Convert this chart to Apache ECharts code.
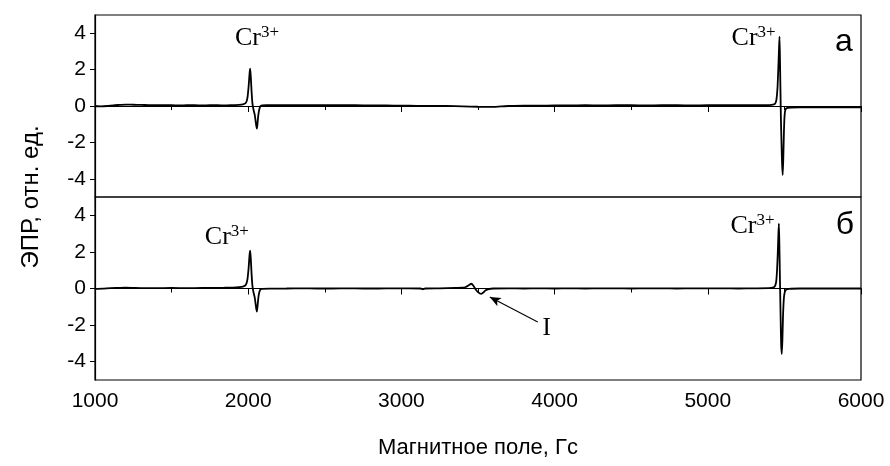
<!DOCTYPE html>
<html>
<head>
<meta charset="utf-8">
<script src="https://cdn.jsdelivr.net/npm/echarts@6/dist/echarts.min.js"></script>
<style>
  html, body { margin: 0; padding: 0; background: #fff; }
  #chart { width: 890px; height: 466px; }
</style>
</head>
<body>
<div id="chart"></div>
<script>
// EPR spectra: [field (G), signal (rel. units)]
const spectrumA = [
  [1000, 0.00], [1040, -0.02], [1080, 0.00], [1120, 0.04], [1160, 0.06], [1200, 0.08],
  [1250, 0.07], [1300, 0.06], [1350, 0.05], [1400, 0.04], [1450, 0.04], [1500, 0.04],
  [1550, 0.03], [1600, 0.04], [1650, 0.04], [1700, 0.03], [1750, 0.04], [1800, 0.04],
  [1850, 0.03], [1900, 0.05], [1940, 0.06], [1965, 0.09], [1985, 0.18], [1995, 0.45],
  [2003, 1.10], [2009, 1.80], [2013, 2.05], [2017, 1.60], [2022, 0.80], [2027, 0.20],
  [2031, -0.05], [2036, -0.25], [2042, -0.45], [2048, -0.80], [2053, -1.10], [2057, -1.24],
  [2061, -0.95], [2066, -0.50], [2072, -0.20], [2080, 0.00], [2090, 0.04], [2120, 0.05],
  [2200, 0.05], [2300, 0.04], [2400, 0.05], [2500, 0.05], [2600, 0.04], [2700, 0.04],
  [2800, 0.03], [2900, 0.03], [3000, 0.02], [3100, 0.01], [3200, 0.01], [3300, 0.00],
  [3400, -0.02], [3500, -0.04], [3580, -0.05], [3650, -0.02], [3700, 0.00], [3800, 0.02],
  [3900, 0.02], [4000, 0.03], [4100, 0.03], [4200, 0.04], [4300, 0.03], [4400, 0.04],
  [4500, 0.04], [4600, 0.03], [4700, 0.04], [4800, 0.04], [4900, 0.03], [5000, 0.04],
  [5100, 0.04], [5200, 0.04], [5300, 0.04], [5400, 0.05], [5425, 0.07], [5440, 0.14],
  [5448, 0.35], [5455, 1.00], [5460, 2.00], [5465, 3.20], [5468, 3.81], [5471, 2.60],
  [5474, 1.00], [5477, -0.60], [5481, -2.00], [5485, -3.20], [5489, -3.79], [5493, -2.80],
  [5497, -1.40], [5501, -0.55], [5506, -0.22], [5515, -0.12], [5540, -0.09], [5600, -0.08],
  [5700, -0.08], [5800, -0.08], [5900, -0.08], [6000, -0.08]
];

const spectrumB = [
  [1000, -0.02], [1050, -0.01], [1100, 0.02], [1150, 0.03], [1200, 0.04], [1250, 0.03],
  [1300, 0.02], [1400, 0.02], [1500, 0.03], [1600, 0.02], [1700, 0.03], [1800, 0.03],
  [1850, 0.04], [1900, 0.05], [1940, 0.07], [1965, 0.10], [1985, 0.20], [1995, 0.50],
  [2003, 1.15], [2009, 1.85], [2013, 2.07], [2017, 1.62], [2022, 0.80], [2027, 0.20],
  [2031, -0.05], [2036, -0.26], [2042, -0.46], [2048, -0.82], [2053, -1.12], [2057, -1.26],
  [2061, -0.97], [2066, -0.52], [2072, -0.22], [2080, -0.05], [2090, -0.02], [2150, -0.01],
  [2250, 0.00], [2350, 0.01], [2450, 0.00], [2550, 0.00], [2650, 0.01], [2750, 0.00],
  [2850, 0.00], [2950, 0.01], [3050, 0.01], [3125, 0.00], [3140, -0.04], [3155, 0.00],
  [3250, 0.01], [3350, 0.03], [3400, 0.04], [3420, 0.08], [3440, 0.18], [3457, 0.26],
  [3470, 0.15], [3485, -0.05], [3500, -0.20], [3512, -0.27], [3522, -0.29], [3535, -0.22],
  [3550, -0.10], [3570, -0.03], [3600, 0.00], [3700, 0.01], [3800, 0.00], [3900, 0.01],
  [4000, 0.00], [4100, 0.01], [4200, 0.00], [4300, 0.01], [4400, 0.01], [4500, 0.00],
  [4600, 0.01], [4700, 0.01], [4800, 0.00], [4900, 0.01], [5000, 0.01], [5100, 0.01],
  [5200, 0.00], [5300, 0.01], [5400, 0.02], [5425, 0.05], [5437, 0.11], [5446, 0.35],
  [5452, 1.00], [5457, 2.00], [5461, 3.00], [5464, 3.55], [5467, 2.50], [5470, 1.00],
  [5473, -0.50], [5476, -1.90], [5479, -3.10], [5483, -3.58], [5487, -2.80], [5491, -1.50],
  [5496, -0.60], [5501, -0.25], [5510, -0.08], [5530, -0.02], [5600, 0.00], [5700, 0.00],
  [5800, 0.00], [5900, 0.00], [6000, 0.00]
];

const xTicks = [1000, 2000, 3000, 4000, 5000, 6000];
const yTicks = [-4, -2, 0, 2, 4];

// annotation anchors in data coordinates
const crLabelsA = [[2057, 3.74], [5299, 3.72]];
const crLabelsB = [[1861, 2.80], [5292, 3.40]];
const labelI = [3948, -2.17];
const arrowI = [[3890, -1.83], [3577, -0.46]];

const chart = echarts.init(document.getElementById('chart'));

const axisLine = { show: true, lineStyle: { color: '#000', width: 1.2 } };
const crRich = {
  cr: { fontFamily: 'Liberation Serif', fontSize: 26, color: '#000' },
  sup: { fontFamily: 'Liberation Serif', fontSize: 17, color: '#000', verticalAlign: 'top', padding: [0, 0, 11, 0] }
};
const crLabel = { show: true, position: 'inside', formatter: '{cr|Cr}{sup|3+}', rich: crRich };

function xAxisDef(gridIndex, showLabels) {
  return {
    type: 'value',
    gridIndex,
    min: 1000,
    max: 6000,
    interval: 1000,
    axisLine,
    axisTick: { show: true, inside: false, length: 6, lineStyle: { color: '#000', width: 1 } },
    minorTick: { show: true, splitNumber: 2, length: 4, lineStyle: { color: '#000', width: 1 } },
    axisLabel: {
      show: showLabels,
      customValues: xTicks,
      formatter: v => String(v),
      fontFamily: 'Liberation Sans',
      fontSize: 21,
      color: '#000',
      margin: 11
    },
    splitLine: { show: false },
    name: showLabels ? 'Магнитное поле, Гс' : '',
    nameLocation: 'middle',
    nameGap: 57,
    nameTextStyle: { fontFamily: 'Liberation Sans', fontSize: 22, color: '#000' }
  };
}

function yAxisDef(gridIndex) {
  return {
    type: 'value',
    gridIndex,
    min: -5,
    max: 5,
    axisLine,
    axisTick: { show: true, inside: false, length: 5, customValues: yTicks, lineStyle: { color: '#000', width: 1 } },
    axisLabel: {
      customValues: yTicks,
      fontFamily: 'Liberation Sans',
      fontSize: 21,
      color: '#000',
      margin: 9
    },
    splitLine: { show: false }
  };
}

chart.setOption({
  animation: false,
  backgroundColor: '#fff',
  grid: [
    { left: 95, right: 29, top: 15, height: 182, show: true, borderColor: '#000', borderWidth: 1.2, containLabel: false },
    { left: 95, right: 29, top: 197, height: 183, show: true, borderColor: '#000', borderWidth: 1.2, containLabel: false }
  ],
  xAxis: [xAxisDef(0, false), xAxisDef(1, true)],
  yAxis: [yAxisDef(0), yAxisDef(1)],
  series: [
    {
      type: 'line',
      xAxisIndex: 0,
      yAxisIndex: 0,
      data: spectrumA,
      showSymbol: false,
      smooth: 0.2,
      lineStyle: { color: '#000', width: 1.8 },
      markPoint: {
        symbol: 'circle',
        symbolSize: 0,
        silent: true,
        data: crLabelsA.map(p => ({ coord: p, label: crLabel }))
      }
    },
    {
      type: 'line',
      xAxisIndex: 1,
      yAxisIndex: 1,
      data: spectrumB,
      showSymbol: false,
      smooth: 0.2,
      lineStyle: { color: '#000', width: 1.8 },
      markPoint: {
        symbol: 'circle',
        symbolSize: 0,
        silent: true,
        data: crLabelsB.map(p => ({ coord: p, label: crLabel })).concat([{
          coord: labelI,
          label: { show: true, position: 'inside', formatter: 'I', fontFamily: 'Liberation Serif', fontSize: 25, color: '#000' }
        }])
      },
      markLine: {
        silent: true,
        symbol: ['none', 'arrow'],
        symbolSize: [7, 11],
        label: { show: false },
        lineStyle: { color: '#000', width: 1.1, type: 'solid' },
        data: [[{ coord: arrowI[0] }, { coord: arrowI[1] }]]
      }
    }
  ],
  graphic: [
    {
      type: 'text',
      x: 31, y: 197,
      rotation: Math.PI / 2,
      style: {
        text: 'ЭПР, отн. ед.',
        fontFamily: 'Liberation Sans',
        fontSize: 24,
        fill: '#000',
        align: 'center',
        verticalAlign: 'middle'
      }
    },
    {
      type: 'text',
      x: 844, y: 42,
      style: { text: 'а', fontFamily: 'Liberation Sans', fontSize: 32, fill: '#000', align: 'center', verticalAlign: 'middle' }
    },
    {
      type: 'text',
      x: 845, y: 225,
      style: { text: 'б', fontFamily: 'Liberation Sans', fontSize: 32, fill: '#000', align: 'center', verticalAlign: 'middle' }
    }
  ]
});
</script>
</body>
</html>
